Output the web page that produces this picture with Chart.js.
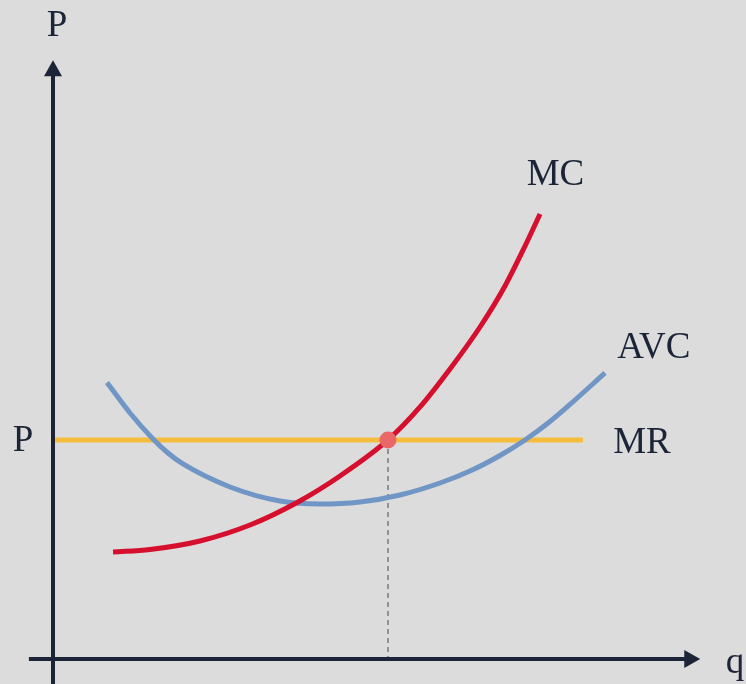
<!DOCTYPE html>
<html>
<head>
<meta charset="utf-8">
<script src="https://cdn.jsdelivr.net/npm/chart.js@4/dist/chart.umd.min.js"></script>
<style>
  html, body { margin: 0; padding: 0; background: #dcdcdc; overflow: hidden; }
  canvas { display: block; }
</style>
</head>
<body>
<canvas id="c" width="746" height="684"></canvas>
<script>
// ---- Data (q = quantity, P = price) ----
const mcQ  = [8.96, 14.48, 21.94, 29.40, 36.57, 42.84, 50.0, 54.78, 59.25, 63.73, 67.46, 70.45, 72.69];
const mcP  = [17.83, 18.25, 19.67, 22.33, 26.17, 30.5, 36.5, 42.0, 48.33, 55.33, 62.17, 68.83, 74.17];
const avcQ = [8.06, 11.49, 14.93, 17.16, 19.40, 26.42, 33.88, 39.85, 45.82, 51.79, 57.76, 62.24, 66.72, 70.45, 74.18, 77.16, 82.39];
const avcP = [46.08, 41.0, 36.67, 34.33, 32.5, 28.67, 26.33, 25.83, 26.17, 27.33, 29.33, 31.33, 33.92, 36.5, 39.58, 42.42, 47.67];
const mrQ  = [0.3, 79.1];
const priceLevel = 36.5;
const eqQ = 50.0;
const eqP = 36.5;
// label text and anchor (data units)
const labelTexts = ["P", "q", "P", "MC", "AVC", "MR"];
const labelQ = [0.6, 100.4, -6.0, 70.7, 84.2, 83.6];
const labelP = [103.8, -2.3, 34.7, 79.0, 50.2, 34.3];
const labelAlign = ["center", "left", "left", "left", "left", "left"];

const pts = (xs, ys) => xs.map((x, i) => ({ x: x, y: ys[i] }));

const INK = '#1c2538';

const axesPlugin = {
  id: 'econAxes',
  afterDatasetsDraw(chart) {
    const { ctx, scales: { x, y } } = chart;
    const ox = x.getPixelForValue(0);
    const oy = y.getPixelForValue(0);
    const yTip = y.getPixelForValue(99.8);
    const xTip = x.getPixelForValue(96.6);
    const yBottom = y.getPixelForValue(-4.17);
    const xLeft = x.getPixelForValue(-3.6);
    const head = 16, half = 9;
    ctx.save();
    ctx.strokeStyle = INK;
    ctx.fillStyle = INK;
    ctx.lineWidth = 4;
    ctx.lineCap = 'butt';
    // y axis
    ctx.beginPath();
    ctx.moveTo(ox, yBottom);
    ctx.lineTo(ox, yTip + head - 1);
    ctx.stroke();
    ctx.beginPath();
    ctx.moveTo(ox, yTip);
    ctx.lineTo(ox - half, yTip + head);
    ctx.lineTo(ox + half, yTip + head);
    ctx.closePath();
    ctx.fill();
    // x axis
    ctx.beginPath();
    ctx.moveTo(xLeft, oy);
    ctx.lineTo(xTip - head + 1, oy);
    ctx.stroke();
    ctx.beginPath();
    ctx.moveTo(xTip, oy);
    ctx.lineTo(xTip - head, oy - half);
    ctx.lineTo(xTip - head, oy + half);
    ctx.closePath();
    ctx.fill();
    ctx.restore();
  },
  afterDraw(chart) {
    const { ctx, scales: { x, y } } = chart;
    ctx.save();
    ctx.fillStyle = INK;
    ctx.font = '37px "Liberation Serif", "DejaVu Serif", serif';
    ctx.textBaseline = 'alphabetic';
    labelTexts.forEach((t, i) => {
      ctx.textAlign = labelAlign[i];
      ctx.fillText(t, x.getPixelForValue(labelQ[i]), y.getPixelForValue(labelP[i]));
    });
    ctx.restore();
  }
};

new Chart(document.getElementById('c'), {
  type: 'scatter',
  data: {
    datasets: [
      {
        label: 'Equilibrium',
        data: [{ x: eqQ, y: eqP }],
        pointRadius: 8.5,
        pointBackgroundColor: '#ea6767',
        pointBorderWidth: 0,
        showLine: false,
        order: 0
      },
      {
        label: 'MC',
        data: pts(mcQ, mcP),
        showLine: true,
        borderColor: '#d50f2d',
        borderWidth: 5,
        pointRadius: 0,
        cubicInterpolationMode: 'monotone',
        order: 1
      },
      {
        label: 'AVC',
        data: pts(avcQ, avcP),
        showLine: true,
        borderColor: '#7096c6',
        borderWidth: 5,
        pointRadius: 0,
        cubicInterpolationMode: 'monotone',
        order: 2
      },
      {
        label: 'drop',
        data: [{ x: eqQ, y: eqP }, { x: eqQ, y: 0 }],
        showLine: true,
        borderColor: '#7a7a7a',
        borderWidth: 1.5,
        borderDash: [5, 4],
        pointRadius: 0,
        order: 3
      },
      {
        label: 'MR',
        data: pts(mrQ, [priceLevel, priceLevel]),
        showLine: true,
        borderColor: '#f6bd3c',
        borderWidth: 5,
        pointRadius: 0,
        order: 4
      }
    ]
  },
  options: {
    responsive: false,
    animation: false,
    events: [],
    clip: false,
    layout: { padding: 0, autoPadding: false },
    plugins: { legend: { display: false }, tooltip: { enabled: false } },
    scales: {
      x: { type: 'linear', display: false, min: -7.91, max: 103.43 },
      y: { type: 'linear', display: false, min: -4.17, max: 109.83 }
    }
  },
  plugins: [axesPlugin]
});
</script>
</body>
</html>
